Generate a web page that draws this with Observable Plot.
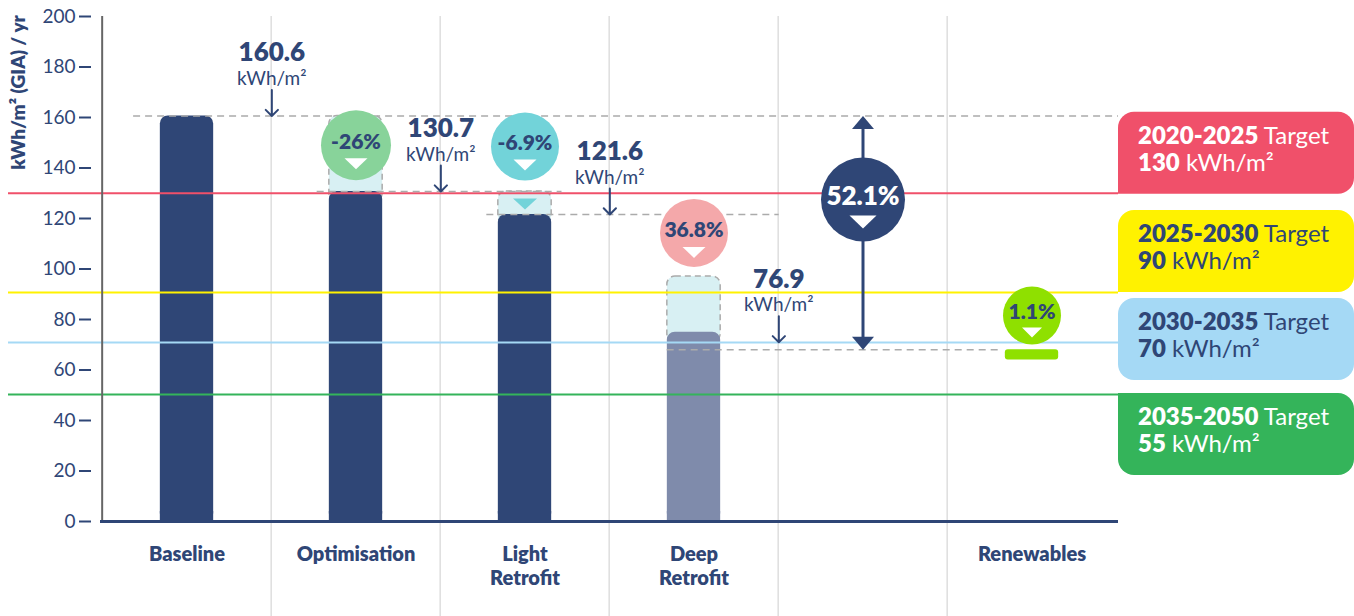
<!DOCTYPE html>
<html>
<head>
<meta charset="utf-8">
<script src="https://cdn.jsdelivr.net/npm/d3@7"></script>
<script src="https://cdn.jsdelivr.net/npm/@observablehq/plot@0.6"></script>
<style>
  html, body { margin: 0; padding: 0; background: #fff; }
  svg { display: block; }
</style>
</head>
<body>
<div id="chart"></div>
<script>
// ---------------- DATA ----------------
const categories     = ["Baseline", "Optimisation", "Light Retrofit", "Deep Retrofit", "Total", "Renewables"];
const categoryLabels = ["Baseline", "Optimisation", "Light\nRetrofit", "Deep\nRetrofit", "", "Renewables"];
const yTicks = [0, 20, 40, 60, 80, 100, 120, 140, 160, 180, 200];

// energy use intensity bars (kWh/m² GIA / yr)
const barCats   = ["Baseline", "Optimisation", "Light Retrofit", "Deep Retrofit"];
const barValues = [160.6, 130.7, 121.6, 75];

// ghost (previous level) boxes
const ghostCats = ["Optimisation", "Light Retrofit", "Deep Retrofit"];
const ghostTops = [160.6, 130.7, 97];

// renewables offset band
const renewLow = 64, renewHigh = 68;

// overall reduction arrow
const totalFrom = 160.6, totalTo = 68;

// percentage badges
const badgeCats  = ["Optimisation", "Light Retrofit", "Deep Retrofit", "Total", "Renewables"];
const badgeText  = ["-26%", "-6.9%", "36.8%", "52.1%", "1.1%"];
const badgeLevel = [149, 148.5, 114.3, 127.5, 81.6];

// readouts between columns
const readoutAfter = ["Baseline", "Optimisation", "Light Retrofit", "Deep Retrofit"];
const readoutText  = ["160.6", "130.7", "121.6", "76.9"];
const readoutTip   = [160.6, 130.7, 121.6, 71];

// dashed reference levels
const guideValues = [160.6, 130.7, 121.6, 68];

// targets
const targetPeriods = ["2020-2025", "2025-2030", "2030-2035", "2035-2050"];
const targetValues  = [130, 90, 70, 55];
const targetLineAt  = [130, 90.7, 70.9, 50.3];

// ---------------- LAYOUT / STYLE ----------------
const W = 1354, H = 616, ML = 100, MR = 236, MT = 16, MB = 95;
const bw = (W - ML - MR) / categories.length;
const BAR_W = 54, INSET = (bw - BAR_W) / 2;
const pxPerUnit = (H - MT - MB) / 200;
const NAVY = "#2f4676", GHOST = "#d8f0f3", DASH = "#ababab";
const FONT = "Lato, 'Open Sans', sans-serif";
const barFill = [NAVY, NAVY, NAVY, "#7f8bab"];
const badgeFill = ["#88d39a", "#72d3d9", "#f4a8aa", NAVY, "#8fe000"];
const badgeInk  = [NAVY, NAVY, NAVY, "#fff", NAVY];
const badgeR    = [35, 34, 34, 42, 29];
const badgeSize = [21, 21, 21, 26, 21];
const badgeTri  = [[23, 11, 13], [23, 11, 13], [23, 11, 14], [27, 13, 16], [20, 10, 12]];
const targetColor = ["#f0506a", "#fff200", "#a5d9f5", "#34b45a"];
const targetInk   = ["#fff", NAVY, NAVY, "#fff"];
const guideSpans = [["Baseline", 0.195, "Renewables", 1.0],
                    ["Optimisation", 0.277, "Light Retrofit", 0.72],
                    ["Light Retrofit", 0.277, "Deep Retrofit", 1.0],
                    ["Deep Retrofit", 0.34, "Renewables", 0.305]];
const SQUARE_FOOT = 10 / pxPerUnit; // height (in data units) of the square-cornered foot of each bar

// ---------------- ROWS ----------------
const bars   = barCats.map((c, i) => ({cat: c, value: barValues[i], fill: barFill[i]}));
const ghosts = ghostCats.map((c, i) => ({cat: c, top: ghostTops[i], bottom: barValues[barCats.indexOf(c)] - 4}));
const badges = badgeCats.map((c, i) => ({cat: c, text: badgeText[i], at: badgeLevel[i], fill: badgeFill[i],
                                         ink: badgeInk[i], r: badgeR[i], size: badgeSize[i], tri: badgeTri[i]}));
const readouts = readoutAfter.map((c, i) => ({cat: c, text: readoutText[i], tip: readoutTip[i]}));
const targets = targetPeriods.map((p, i) => ({period: p, value: targetValues[i], line: targetLineAt[i],
                                             color: targetColor[i], ink: targetInk[i]}));

// custom symbols
const triDown = (w, h) => ({draw(ctx) { ctx.moveTo(-w / 2, 0); ctx.lineTo(w / 2, 0); ctx.lineTo(0, h); ctx.closePath(); }});
const headUp   = {draw(ctx) { ctx.moveTo(0, 0); ctx.lineTo(11, 13); ctx.lineTo(-11, 13); ctx.closePath(); }};
const headDown = {draw(ctx) { ctx.moveTo(0, 0); ctx.lineTo(11, -13); ctx.lineTo(-11, -13); ctx.closePath(); }};

const xs = Plot.scale({x: {type: "band", domain: categories, range: [ML, W - MR], padding: 0}});
const guideMarks = guideValues.map((v, i) => {
  const [c1, f1, c2, f2] = guideSpans[i];
  const a = xs.apply(c1) + f1 * bw, b = xs.apply(c2) + f2 * bw;
  return Plot.ruleY([v], {stroke: DASH, strokeWidth: 1.5, strokeDasharray: "7,5",
                          insetLeft: a - ML, insetRight: (W - MR) - b});
});

const badgeTriMarks = badges.map(d => Plot.dot([d], {x: "cat", y: "at", symbol: triDown(d.tri[0], d.tri[1]),
                                                     r: 5, fill: "#fff", stroke: null, dy: d.tri[2]}));

const chart = Plot.plot({
  width: W, height: H,
  marginLeft: ML, marginRight: MR, marginTop: MT, marginBottom: MB,
  style: {fontFamily: FONT, color: NAVY, background: "#fff", overflow: "visible"},
  x: {type: "band", domain: categories, padding: 0, axis: null},
  y: {domain: [0, 200], axis: null},
  color: {type: "identity"},
  r: {type: "identity"},
  marks: [
    // column separators
    Plot.ruleX(categories.slice(1), {x: d => d, dx: -bw / 2, stroke: "#dedede", strokeWidth: 1.5, insetBottom: -MB}),
    // ghost boxes
    Plot.barY(ghosts, {x: "cat", y1: "bottom", y2: "top", fill: GHOST, stroke: DASH, strokeWidth: 1.5,
                       strokeDasharray: "6,4", rx: 8, insetLeft: INSET, insetRight: INSET}),
    Plot.dot(ghosts.filter(d => d.cat === "Light Retrofit"), {x: "cat", y: "top", symbol: triDown(24, 11), r: 5,
                       fill: "#72d3d9", stroke: null, dy: 7}),
    // bars (rounded top, square foot)
    Plot.barY(bars, {x: "cat", y1: 0, y2: "value", fill: "fill", rx: 8, insetLeft: INSET, insetRight: INSET}),
    Plot.barY(bars, {x: "cat", y1: 0, y2: () => SQUARE_FOOT, fill: "fill", insetLeft: INSET, insetRight: INSET}),
    // renewables
    Plot.barY([{cat: "Renewables", lo: renewLow, hi: renewHigh}], {x: "cat", y1: "lo", y2: "hi", fill: "#8fe000",
                       rx: 3, insetLeft: INSET, insetRight: INSET}),
    // target lines
    Plot.ruleY(targets, {y: "line", stroke: "color", strokeWidth: 2, insetLeft: -(ML - 8)}),
    // dashed guides
    ...guideMarks,
    // overall arrow
    Plot.ruleX([{cat: "Total"}], {x: "cat", y1: totalFrom, y2: totalTo, stroke: NAVY, strokeWidth: 3,
                                  insetTop: 10, insetBottom: 10}),
    Plot.dot([{cat: "Total", y: totalFrom}], {x: "cat", y: "y", symbol: headUp, r: 5, fill: NAVY, stroke: null}),
    Plot.dot([{cat: "Total", y: totalTo}], {x: "cat", y: "y", symbol: headDown, r: 5, fill: NAVY, stroke: null}),
    // readouts
    Plot.arrow(readouts, {x1: "cat", x2: "cat", y1: d => d.tip + 26 / pxPerUnit, y2: "tip", dx: bw / 2,
                          stroke: NAVY, strokeWidth: 2, headLength: 14, headAngle: 90}),
    Plot.text(readouts, {x: "cat", y: "tip", text: "text", dx: bw / 2, dy: -63, fontSize: 26, fontWeight: 800, fill: NAVY}),
    Plot.text(readouts, {x: "cat", y: "tip", text: () => "kWh/m²", dx: bw / 2, dy: -37, fontSize: 19, fill: NAVY}),
    // badges
    Plot.dot(badges, {x: "cat", y: "at", r: "r", fill: "fill", stroke: null}),
    Plot.text(badges, {x: "cat", y: "at", text: "text", fill: "ink", fontSize: "size", fontWeight: 800, dy: -3}),
    ...badgeTriMarks,
    // axes
    Plot.ruleX(["Baseline"], {dx: -bw / 2, stroke: "#666", strokeWidth: 2}),
    Plot.ruleY([0], {stroke: NAVY, strokeWidth: 3}),
    Plot.axisY({ticks: yTicks, tickSize: 12, dx: -9, tickPadding: 4, fontSize: 19, strokeWidth: 2, label: null}),
    Plot.text(["kWh/m² (GIA) / yr"], {frameAnchor: "top-left", textAnchor: "middle", lineAnchor: "middle",
                                      dx: -82, dy: 76, rotate: -90, fontSize: 19, fontWeight: 800, fill: NAVY}),
    Plot.text(categories, {x: d => d, y: 0, text: (d, i) => categoryLabels[i], lineAnchor: "top", dy: 22,
                           lineHeight: 1.2, fontSize: 20, fontWeight: 800, fill: NAVY})
  ]
});

document.getElementById("chart").appendChild(chart);

// ---------------- TARGET CARDS (in right margin, positioned with Plot's y scale) ----------------
const Y = chart.scale("y");
const cardOffset = [-81, -82, -44, -1];     // card top relative to its line (px)
const cardSquare = ["bl", "bl", null, "tl"]; // corner joined to the line
const CARD_H = 82, CARD_X = W - MR, CARD_R = 16;
function cardPath(x, y, w, h, r, sq) {
  const tl = sq === "tl" ? 0 : r, bl = sq === "bl" ? 0 : r, tr = r, br = r;
  return `M${x + tl},${y}H${x + w - tr}A${tr},${tr} 0 0 1 ${x + w},${y + tr}V${y + h - br}` +
         `A${br},${br} 0 0 1 ${x + w - br},${y + h}H${x + bl}` + (bl ? `A${bl},${bl} 0 0 1 ${x},${y + h - bl}` : "") +
         `V${y + tl}` + (tl ? `A${tl},${tl} 0 0 1 ${x + tl},${y}` : "") + "Z";
}
const g = d3.select(chart).append("g").attr("font-family", FONT).attr("text-anchor", "start");
targets.forEach((t, i) => {
  const top = Y.apply(t.line) + cardOffset[i];
  g.append("path").attr("d", cardPath(CARD_X, top, W - CARD_X, CARD_H, CARD_R, cardSquare[i])).attr("fill", t.color);
  const t1 = g.append("text").attr("x", CARD_X + 20).attr("y", top + 24).attr("dy", "0.35em")
    .attr("font-size", 24).attr("fill", t.ink);
  t1.append("tspan").attr("font-weight", 800).text(t.period);
  t1.append("tspan").attr("font-weight", 400).text(" Target");
  const t2 = g.append("text").attr("x", CARD_X + 20).attr("y", top + 51).attr("dy", "0.35em")
    .attr("font-size", 24).attr("fill", t.ink);
  t2.append("tspan").attr("font-weight", 800).text(t.value);
  t2.append("tspan").attr("font-weight", 400).text(" kWh/m²");
});
</script>
</body>
</html>
